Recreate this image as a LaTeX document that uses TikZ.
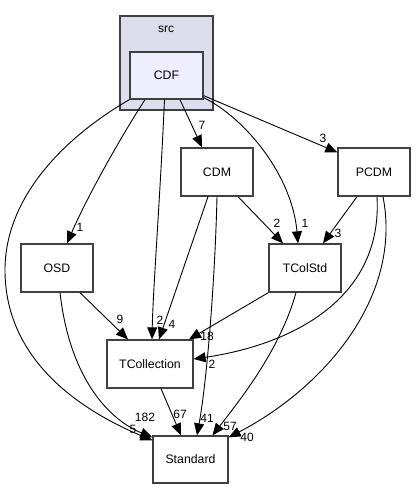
\documentclass[tikz,border=0pt]{standalone}
\usepackage{fontspec}
\setmainfont{Liberation Sans}
\usetikzlibrary{arrows.meta,calc}
\definecolor{clusterfill}{HTML}{DDDDEE}
\definecolor{cdffill}{HTML}{EEEEFF}
\definecolor{boxline}{HTML}{404040}
\tikzset{
  dirbox/.style={draw=boxline, line width=1.3pt, fill=white, rectangle, inner sep=0pt,
    minimum width=72pt, minimum height=48pt, font=\fontsize{12.3}{14}\selectfont},
  edge/.style={draw=black, line width=0.9pt, -{Triangle[length=12pt,width=10pt]}},
  elabel/.style={inner sep=0pt, font=\fontsize{12}{14}\selectfont}
}
\begin{document}
\begin{tikzpicture}[x=1pt,y=-1pt]
\useasboundingbox (0,0) rectangle (416,489);
% cluster
\draw[draw=boxline, line width=1.3pt, fill=clusterfill] (120,16) rectangle (213,110);
\node[elabel] (srclbl) at (166,29) {src};
% nodes
\node[dirbox, fill=cdffill, minimum width=73pt, minimum height=47pt] (CDF) at (166.5,75.5) {CDF};
\node[dirbox] (CDM) at (217,172) {CDM};
\node[dirbox] (PCDM) at (374,172) {PCDM};
\node[dirbox] (OSD) at (57,268) {OSD};
\node[dirbox] (TColStd) at (305,268) {TColStd};
\node[dirbox, minimum width=86pt] (TCollection) at (150,364) {TCollection};
\node[dirbox, minimum width=75pt, minimum height=47pt] (Standard) at (190.5,459.5) {Standard};
% edges
\draw[edge] ([xshift=13.5]CDF.south) -- ([xshift=-15]CDM.north);
\draw[edge] ([yshift=4]CDF.south east) -- ([yshift=-5]PCDM.north west);
\draw[edge] ([yshift=2]CDF.south east) .. controls (245,118) and (292,175) .. ([xshift=-7]TColStd.north);
\draw[edge] ([xshift=-21.5]CDF.south) .. controls (122,135) and (88,195) .. ([xshift=10]OSD.north);
\draw[edge] ([xshift=-2]CDF.south) .. controls (160,200) and (153,290) .. ([xshift=2]TCollection.north);
\draw[edge] (CDF.south west) .. controls (60,140) and (5,200) .. (5,270) .. controls (5,360) and (80,410) .. ([yshift=-5]Standard.north west);
\draw[edge] ([xshift=-9]CDM.south) -- ([xshift=9]TCollection.north);
\draw[edge] (CDM.south) .. controls (215,280) and (207,380) .. ([xshift=6.5]Standard.north);
\draw[edge] ([xshift=21]CDM.south) -- ([xshift=-22]TColStd.north);
\draw[edge] ([xshift=-17]PCDM.south) -- ([xshift=18]TColStd.north);
\draw[edge] ([xshift=3]PCDM.south) .. controls (383,300) and (290,345) .. ([yshift=5]TCollection.east);
\draw[edge] ([xshift=9]PCDM.south) .. controls (403,300) and (320,390) .. ([yshift=-2]Standard.north east);
\draw[edge] (TColStd.south west) -- ([xshift=39]TCollection.north);
\draw[edge] ([xshift=-9]TColStd.south) .. controls (280,350) and (240,400) .. ([xshift=22]Standard.north);
\draw[edge] ([xshift=23]OSD.south) -- ([xshift=-22]TCollection.north);
\draw[edge] ([xshift=3]OSD.south) .. controls (70,380) and (110,420) .. ([yshift=-2]Standard.north west);
\draw[edge] ([xshift=11]TCollection.south) -- ([xshift=-9.5]Standard.north);
% labels
\node[elabel] (l1) at (202,125) {7};
\node[elabel] (l2) at (323,138) {3};
\node[elabel] (l3) at (80,227) {1};
\node[elabel] (l4) at (305,223) {1};
\node[elabel] (l5) at (277,223) {2};
\node[elabel] (l6) at (338,233) {3};
\node[elabel] (l7) at (120,319) {9};
\node[elabel] (l8) at (160,320) {2};
\node[elabel] (l9) at (172,324) {4};
\node[elabel] (l10) at (207,336) {18};
\node[elabel] (l11) at (212,364) {2};
\node[elabel] (l12) at (180,414) {67};
\node[elabel] (l13) at (207,418) {41};
\node[elabel] (l14) at (230,426) {57};
\node[elabel] (l15) at (247,437) {40};
\node[elabel] (l16) at (133,429) {5};
\node[elabel] (l17) at (145,417) {182};
\end{tikzpicture}
\end{document}
